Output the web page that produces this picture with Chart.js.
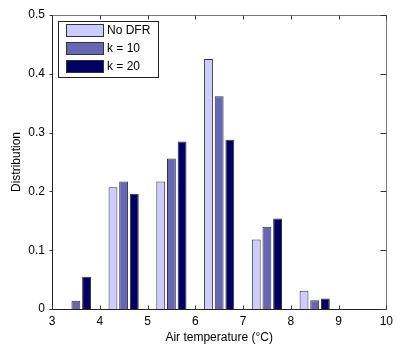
<!DOCTYPE html>
<html>
<head>
<meta charset="utf-8">
<script src="https://cdn.jsdelivr.net/npm/chart.js@4/dist/chart.umd.min.js"></script>
<style>
  html, body { margin: 0; padding: 0; background: #ffffff; }
  #wrap { width: 398px; height: 350px; }
</style>
</head>
<body>
<div id="wrap"><canvas id="c" width="398" height="350"></canvas></div>
<script>
// Bin centres (air temperature, °C)
const bins = [3.5, 4.5, 5.5, 6.5, 7.5, 8.5];
// Series values (distribution)
const noDFR = [null, 0.207, 0.217, 0.425, 0.118, 0.031];
const k10   = [0.014, 0.217, 0.256, 0.362, 0.140, 0.015];
const k20   = [0.055, 0.196, 0.285, 0.288, 0.154, 0.018];
const seriesLabels = ['No DFR', 'k = 10', 'k = 20'];
const xTicks = [3, 4, 5, 6, 7, 8, 9, 10];
const yTicks = [0, 0.1, 0.2, 0.3, 0.4, 0.5];

const colors = ['#ccccff', '#6666b4', '#000060'];
const FONT = 'Liberation Sans, Arial, Helvetica, sans-serif';

function pts(arr) { return bins.map((b, i) => ({ x: b, y: arr[i] })); }

const framePlugin = {
  id: 'frame',
  afterDraw(chart) {
    const ctx = chart.ctx;
    const a = chart.chartArea;
    const xs = chart.scales.x, ys = chart.scales.y;
    const L = Math.round(a.left) + 0.5, R = Math.round(a.right) + 0.5;
    const T = Math.round(a.top) + 0.5, B = Math.round(a.bottom) + 0.5;
    ctx.save();
    ctx.lineWidth = 1;
    // top & right (lighter)
    ctx.strokeStyle = '#7a7a7a';
    ctx.beginPath();
    ctx.moveTo(L, T); ctx.lineTo(R, T); ctx.lineTo(R, B);
    ctx.stroke();
    // left & bottom (dark)
    ctx.strokeStyle = '#222222';
    ctx.beginPath();
    ctx.moveTo(L, T); ctx.lineTo(L, B); ctx.lineTo(R, B);
    ctx.stroke();

    const tl = 4;
    ctx.strokeStyle = '#333333';
    ctx.beginPath();
    xTicks.forEach(v => {
      const px = Math.round(xs.getPixelForValue(v)) + 0.5;
      ctx.moveTo(px, B); ctx.lineTo(px, B - tl);
      ctx.moveTo(px, T); ctx.lineTo(px, T + tl);
    });
    yTicks.forEach(v => {
      const py = Math.round(ys.getPixelForValue(v)) + 0.5;
      ctx.moveTo(L, py); ctx.lineTo(L - 3, py);
      ctx.moveTo(R, py); ctx.lineTo(R - 6, py);
    });
    ctx.stroke();

    // Legend box inside plot (top-left)
    const lx = 58, ly = 21, lw = 100, lh = 56;
    ctx.fillStyle = '#ffffff';
    ctx.fillRect(lx, ly, lw, lh);
    ctx.strokeStyle = '#222222';
    ctx.strokeRect(lx + 0.5, ly + 0.5, lw, lh);
    ctx.font = '12px ' + FONT;
    ctx.textBaseline = 'middle';
    chart.data.datasets.forEach((ds, i) => {
      const sy = 24 + i * 18;
      ctx.fillStyle = ds.backgroundColor;
      ctx.fillRect(66, sy, 38, 13);
      ctx.strokeStyle = '#333333';
      ctx.strokeRect(66.5, sy + 0.5, 37, 12);
      ctx.fillStyle = '#000000';
      ctx.fillText(ds.label, 107, sy + 7);
    });
    ctx.restore();
  }
};

new Chart(document.getElementById('c'), {
  type: 'bar',
  data: {
    datasets: [
      { label: seriesLabels[0], data: pts(noDFR), backgroundColor: colors[0], borderColor: '#333333', borderWidth: 1 },
      { label: seriesLabels[1], data: pts(k10),   backgroundColor: colors[1], borderColor: '#333333', borderWidth: 1 },
      { label: seriesLabels[2], data: pts(k20),   backgroundColor: colors[2], borderColor: '#333333', borderWidth: 1 }
    ]
  },
  options: {
    responsive: false,
    animation: false,
    categoryPercentage: 0.67,
    barPercentage: 0.83,
    layout: { padding: { left: 0, right: 8, top: 15, bottom: 0 } },
    plugins: { legend: { display: false }, tooltip: { enabled: false } },
    scales: {
      x: {
        type: 'linear', min: 3, max: 10, offset: false,
        afterBuildTicks(s) { s.ticks = xTicks.map(v => ({ value: v })); },
        afterFit(s) { s.height = 41; },
        grid: { display: false, drawTicks: false },
        border: { display: false },
        ticks: { color: '#000', font: { family: FONT, size: 12 }, padding: 5 },
        title: { display: true, text: 'Air temperature (°C)', color: '#000',
                 font: { family: FONT, size: 12 }, padding: { top: 1, bottom: 5 } }
      },
      y: {
        min: 0, max: 0.5,
        afterBuildTicks(s) { s.ticks = yTicks.map(v => ({ value: v })); },
        afterFit(s) { s.width = 52; },
        grid: { display: false, drawTicks: false },
        border: { display: false },
        ticks: { color: '#000', font: { family: FONT, size: 12 }, padding: 7 },
        title: { display: true, text: 'Distribution', color: '#000',
                 font: { family: FONT, size: 12 }, padding: { top: 9, bottom: 0 } }
      }
    }
  },
  plugins: [framePlugin]
});
</script>
</body>
</html>
